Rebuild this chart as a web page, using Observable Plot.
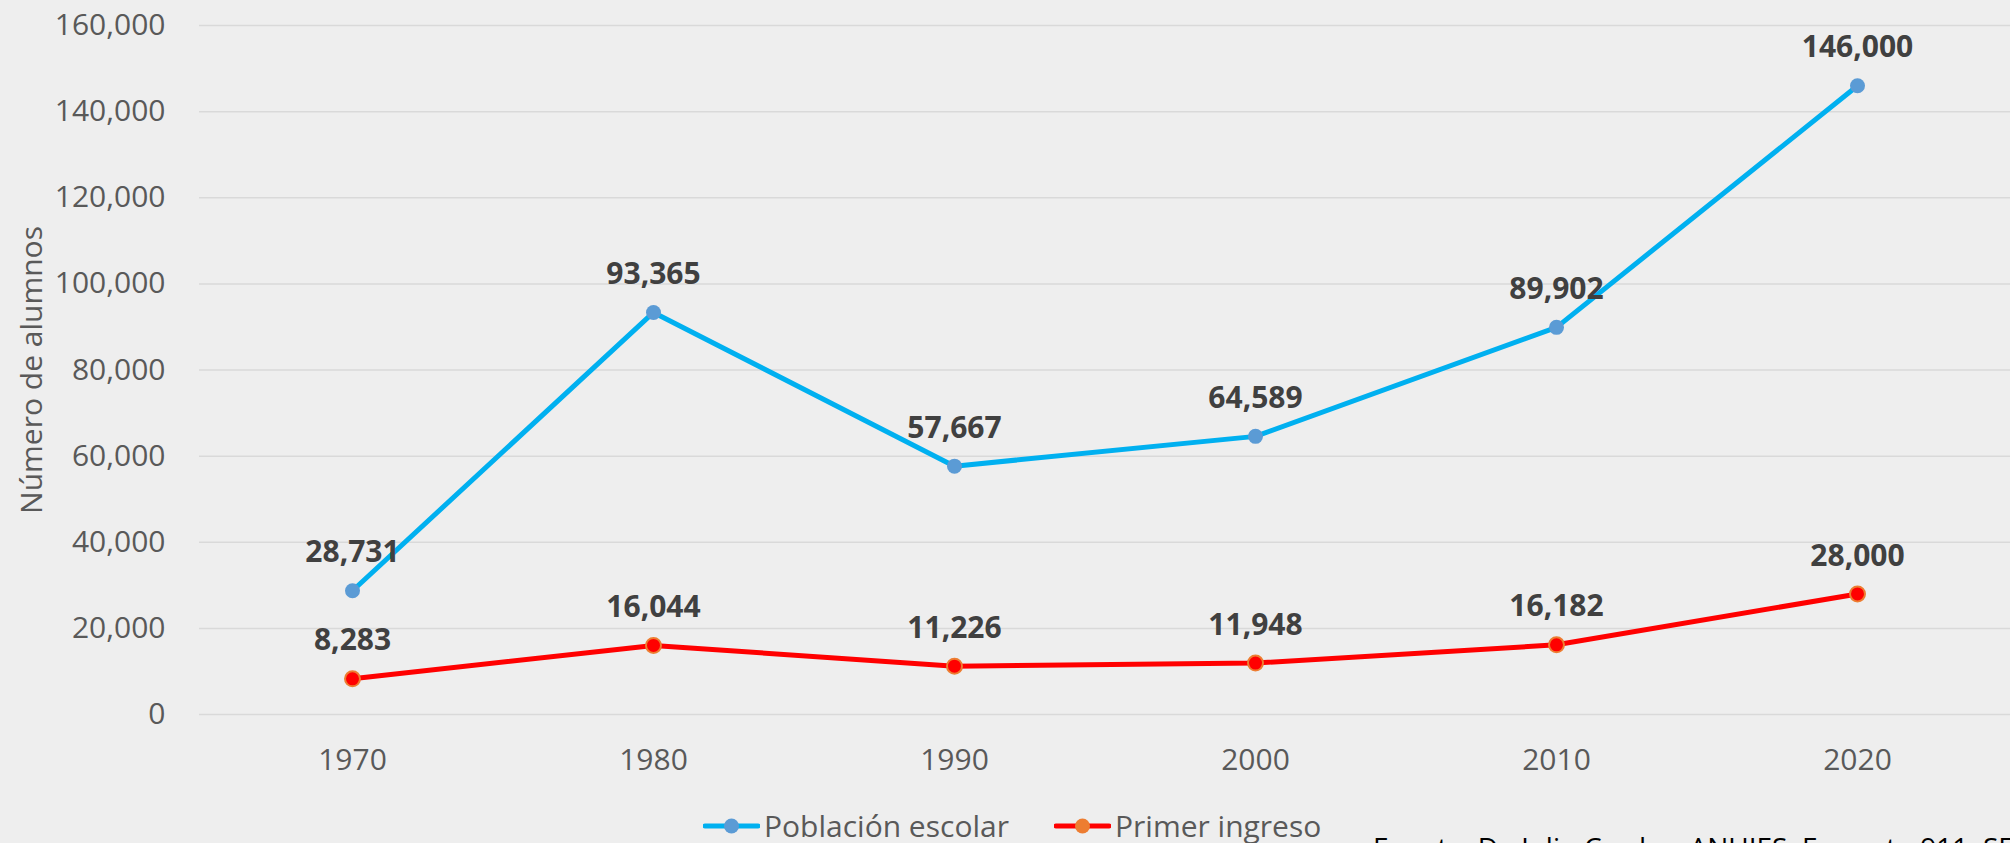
<!DOCTYPE html>
<html>
<head>
<meta charset="utf-8">
<script src="https://cdn.jsdelivr.net/npm/d3@7"></script>
<script src="https://cdn.jsdelivr.net/npm/@observablehq/plot@0.6"></script>
<style>
  html, body { margin: 0; padding: 0; background: #eeeeee; }
  #wrap { position: relative; width: 2010px; height: 843px; overflow: hidden; background: #eeeeee; font-family: "Open Sans", sans-serif; }
  #chart { position: absolute; left: 0; top: 0; }
  .leg { position: absolute; display: flex; align-items: center; height: 32px; top: 810px; font-size: 30px; color: #595959; line-height: 1; white-space: nowrap; }
  .leg svg { margin-right: 4px; }
  #source { position: absolute; left: 1373px; top: 833px; font-size: 28px; line-height: 1; color: #000; white-space: nowrap; }
</style>
</head>
<body>
<div id="wrap">
  <div id="chart"></div>
  <div id="legend"></div>
  <div id="source"></div>
</div>
<script>
const years = ["1970", "1980", "1990", "2000", "2010", "2020"];
const poblacion = [28731, 93365, 57667, 64589, 89902, 146000];
const primerIngreso = [8283, 16044, 11226, 11948, 16182, 28000];
const seriesNames = ["Población escolar", "Primer ingreso"];
const lineColors = ["#00b0f0", "#ff0000"];
const dotColors = ["#5b9bd5", "#ff0000"];
const dotStrokes = ["none", "#ed7d31"];
const legendDotColors = ["#5b9bd5", "#ed7d31"];
const yTicks = [0, 20000, 40000, 60000, 80000, 100000, 120000, 140000, 160000];
const yTitle = "Número de alumnos";
const sourceText = "Fuente: De Julio Cerdas, ANUIES. Formato 911. SEP";

const fmt = d3.format(",");
const series = [poblacion, primerIngreso].map((vals, i) =>
  years.map((yr, j) => ({year: yr, value: vals[j], series: seriesNames[i]}))
);

const marks = [
  Plot.gridY(yTicks, {stroke: "#d9d9d9", strokeOpacity: 1, strokeWidth: 1.5}),
  Plot.axisY(yTicks, {tickSize: 0, tickPadding: 34, tickFormat: fmt, fill: "#595959", fontSize: 30, label: null}),
  Plot.axisX(years, {tickSize: 0, tickPadding: 34, fill: "#595959", fontSize: 30, label: null}),
  Plot.text([yTitle], {frameAnchor: "left", textAnchor: "middle", dx: -167, rotate: -90, fill: "#595959", fontSize: 30})
];
series.forEach((rows, i) => {
  marks.push(Plot.line(rows, {x: "year", y: "value", stroke: lineColors[i], strokeWidth: 5}));
});
series.forEach((rows, i) => {
  marks.push(Plot.dot(rows, {x: "year", y: "value", r: 7.5, fill: dotColors[i], stroke: dotStrokes[i], strokeWidth: 2}));
  marks.push(Plot.text(rows, {x: "year", y: "value", text: d => fmt(d.value), dy: -38, fontWeight: "bold", fill: "#404040", fontSize: 30}));
});

const chart = Plot.plot({
  width: 2010,
  height: 790,
  marginLeft: 199,
  marginRight: 0,
  marginTop: 25,
  marginBottom: 76,
  style: {background: "transparent", fontFamily: "Open Sans, sans-serif", fontSize: "30px", color: "#595959", overflow: "visible"},
  x: {type: "point", domain: years, padding: 0.5, label: null},
  y: {domain: [0, 160000], label: null},
  marks
});
document.getElementById("chart").appendChild(chart);

// Legend
const legendLefts = [703, 1054];
const legend = document.getElementById("legend");
seriesNames.forEach((name, i) => {
  const item = document.createElement("div");
  item.className = "leg";
  item.style.left = legendLefts[i] + "px";
  const ns = "http://www.w3.org/2000/svg";
  const svg = document.createElementNS(ns, "svg");
  svg.setAttribute("width", 57);
  svg.setAttribute("height", 20);
  const ln = document.createElementNS(ns, "line");
  ln.setAttribute("x1", 2); ln.setAttribute("x2", 55);
  ln.setAttribute("y1", 10); ln.setAttribute("y2", 10);
  ln.setAttribute("stroke", lineColors[i]);
  ln.setAttribute("stroke-width", 5);
  ln.setAttribute("stroke-linecap", "round");
  svg.appendChild(ln);
  const c = document.createElementNS(ns, "circle");
  c.setAttribute("cx", 28.5); c.setAttribute("cy", 10); c.setAttribute("r", 7.5);
  c.setAttribute("fill", legendDotColors[i]);
  svg.appendChild(c);
  item.appendChild(svg);
  const t = document.createElement("span");
  t.textContent = name;
  item.appendChild(t);
  legend.appendChild(item);
});
document.getElementById("source").textContent = sourceText;
</script>
</body>
</html>
